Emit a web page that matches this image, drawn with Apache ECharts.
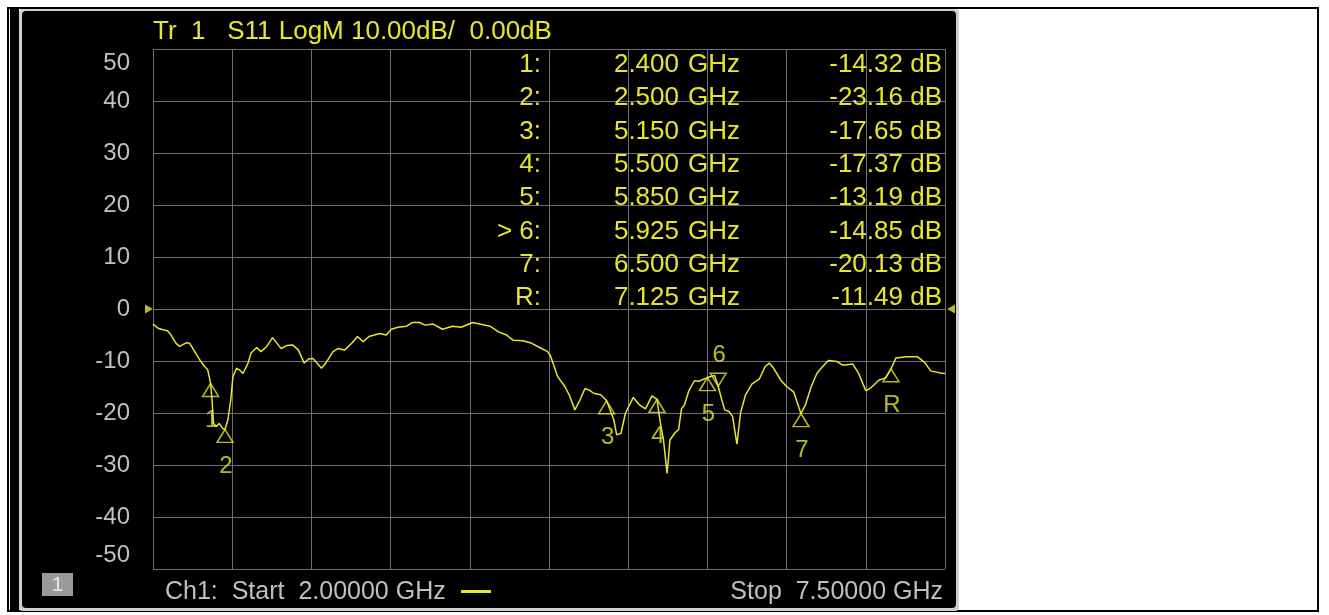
<!DOCTYPE html>
<html>
<head>
<meta charset="utf-8">
<script src="https://cdn.jsdelivr.net/npm/echarts@6/dist/echarts.min.js"></script>
<style>
  html, body { margin: 0; padding: 0; background: #fff; }
  #chart { width: 1329px; height: 615px; }
</style>
</head>
<body>
<div id="chart"></div>
<script>
// S11 trace, frequency in GHz and return loss in dB
const traceFreq = [
  2.000, 2.035, 2.070, 2.100, 2.120, 2.160, 2.185, 2.230, 2.255, 2.290,
  2.325, 2.360, 2.380, 2.400, 2.410, 2.420, 2.440, 2.460, 2.485, 2.500,
  2.520, 2.540, 2.555, 2.580, 2.600, 2.625, 2.660, 2.680, 2.720, 2.750,
  2.790, 2.830, 2.870, 2.890, 2.930, 2.970, 3.010, 3.050, 3.080, 3.110,
  3.130, 3.170, 3.200, 3.250, 3.285, 3.330, 3.380, 3.420, 3.460, 3.500,
  3.575, 3.620, 3.655, 3.700, 3.760, 3.800, 3.850, 3.890, 3.945, 4.010,
  4.080, 4.140, 4.220, 4.270, 4.340, 4.400, 4.455, 4.500, 4.570, 4.630,
  4.685, 4.740, 4.760, 4.810, 4.860, 4.890, 4.930, 4.965, 5.000, 5.030,
  5.060, 5.110, 5.150, 5.200, 5.220, 5.250, 5.280, 5.335, 5.380, 5.420,
  5.465, 5.500, 5.520, 5.545, 5.570, 5.590, 5.625, 5.650, 5.670, 5.690,
  5.720, 5.760, 5.790, 5.850, 5.900, 5.925, 5.950, 5.970, 6.000, 6.025,
  6.055, 6.080, 6.115, 6.160, 6.210, 6.250, 6.280, 6.310, 6.360, 6.400,
  6.450, 6.500, 6.530, 6.570, 6.610, 6.640, 6.690, 6.750, 6.790, 6.860,
  6.900, 6.950, 6.980, 7.040, 7.090, 7.125, 7.160, 7.230, 7.310, 7.360,
  7.400, 7.470, 7.500
];
const traceDb = [
  -2.9, -3.7, -4.0, -4.2, -4.8, -6.6, -7.2, -6.5, -6.6, -8.2,
  -9.8, -11.1, -11.7, -14.32, -17.5, -22.0, -22.6, -22.0, -23.0, -23.16,
  -21.3, -17.5, -13.0, -11.4, -11.7, -12.4, -10.4, -8.5, -7.4, -8.2,
  -7.2, -5.5, -6.9, -7.6, -7.0, -6.9, -7.9, -10.4, -9.6, -9.5,
  -10.1, -11.4, -10.4, -8.2, -7.6, -7.9, -6.6, -5.3, -6.3, -5.3,
  -4.7, -5.0, -3.9, -3.5, -3.3, -2.6, -2.6, -3.1, -2.9, -3.9,
  -3.3, -3.5, -2.6, -2.9, -3.3, -4.4, -5.0, -6.0, -6.1, -6.6,
  -7.4, -8.2, -9.0, -13.0, -14.9, -16.5, -19.4, -17.5, -15.3, -15.6,
  -16.2, -16.5, -17.65, -21.3, -24.2, -23.9, -20.1, -17.0, -18.5, -19.2,
  -16.7, -17.37, -21.3, -25.2, -31.6, -25.2, -23.8, -23.2, -19.2, -18.5,
  -15.8, -13.8, -13.9, -13.19, -12.8, -14.85, -17.5, -19.4, -19.7, -20.7,
  -26.0, -20.0, -16.5, -14.4, -13.5, -11.1, -10.4, -11.4, -13.7, -14.9,
  -16.0, -20.13, -18.5, -15.0, -12.4, -11.4, -9.9, -10.1, -10.8, -10.6,
  -12.4, -15.7, -15.3, -13.7, -13.2, -11.49, -9.4, -9.2, -9.2, -10.3,
  -11.9, -12.3, -12.4
];

// marker table
const markerNames = ['1', '2', '3', '4', '5', '6', '7', 'R'];
const markerFreq = [2.400, 2.500, 5.150, 5.500, 5.850, 5.925, 6.500, 7.125];
const markerDb = [-14.32, -23.16, -17.65, -17.37, -13.19, -14.85, -20.13, -11.49];
const activeMarker = 5;

// sweep / scale settings
const startGHz = 2.0;
const stopGHz = 7.5;
const refLevel = 0;
const yTicks = [-50, 50, 10];

const YEL = '#e6e632';
const GRAY = '#c0c0c0';
const FONT = '"Liberation Sans", Arial, sans-serif';

const myChart = echarts.init(document.getElementById('chart'));

const tracePts = traceFreq.map((f, i) => [f, traceDb[i]]);

const markerPts = markerFreq.map((f, i) => {
  const up = i !== activeMarker;
  return {
    name: markerNames[i],
    value: [f, markerDb[i]],
    symbolRotate: up ? 0 : 180,
    symbolOffset: up ? [0, 6.5] : [0, -6.5],
    label: { offset: up ? [1, 37] : [1, -31] }
  };
});

// marker readout rows
const rowY0 = 65, rowDy = 33.3;
const table = [];
markerNames.forEach((n, i) => {
  const y = rowY0 + i * rowDy;
  const font = '26px ' + FONT;
  table.push({
    type: 'text', z: 5,
    style: { text: (i === activeMarker ? '> ' : '') + n + ':', x: 541, y: y, fill: YEL, font: font,
      textAlign: 'right', align: 'right', textVerticalAlign: 'middle', verticalAlign: 'middle' }
  });
  table.push({
    type: 'text', z: 5,
    style: { text: markerFreq[i].toFixed(3), x: 679, y: y, fill: YEL, font: font,
      textAlign: 'right', align: 'right', textVerticalAlign: 'middle', verticalAlign: 'middle' }
  });
  table.push({
    type: 'text', z: 5,
    style: { text: 'GHz', x: 688, y: y, fill: YEL, font: font,
      textAlign: 'left', align: 'left', textVerticalAlign: 'middle', verticalAlign: 'middle' }
  });
  table.push({
    type: 'text', z: 5,
    style: { text: markerDb[i].toFixed(2) + ' dB', x: 942, y: y, fill: YEL, font: font,
      textAlign: 'right', align: 'right', textVerticalAlign: 'middle', verticalAlign: 'middle' }
  });
});

const option = {
  backgroundColor: '#fff',
  animation: false,
  grid: { left: 153, right: 384, top: 49, bottom: 46 },
  graphic: [
    // page frame
    { type: 'rect', z: -20, shape: { x: 8, y: 8, width: 1310, height: 603 },
      style: { fill: '#fff', stroke: '#000', lineWidth: 2 } },
    { type: 'rect', z: -19, shape: { x: 10, y: 9, width: 9, height: 601 }, style: { fill: '#000' } },
    // instrument screen
    { type: 'rect', z: -18, shape: { x: 19, y: 9, width: 940, height: 602, r: 4 }, style: { fill: '#cfcfcf' } },
    { type: 'rect', z: -17, shape: { x: 22, y: 11, width: 934, height: 597, r: 4 }, style: { fill: '#000' } },
    // trace title
    { type: 'text', z: 5, style: { text: 'Tr  1   S11 LogM 10.00dB/  0.00dB', x: 153, y: 32, fill: YEL,
      font: '26px ' + FONT, textVerticalAlign: 'middle', verticalAlign: 'middle' } },
    // channel footer
    { type: 'rect', z: 5, shape: { x: 42, y: 573, width: 31, height: 23 }, style: { fill: '#9a9a9a' } },
    { type: 'text', z: 6, style: { text: '1', x: 57.5, y: 585, fill: '#e8e8e8', font: '21px ' + FONT,
      textAlign: 'center', align: 'center', textVerticalAlign: 'middle', verticalAlign: 'middle' } },
    { type: 'text', z: 5, style: { text: 'Ch1:  Start  ' + startGHz.toFixed(5) + ' GHz', x: 165, y: 592, fill: GRAY,
      font: '25px ' + FONT, textVerticalAlign: 'middle', verticalAlign: 'middle' } },
    { type: 'rect', z: 5, shape: { x: 461, y: 590, width: 30, height: 3 }, style: { fill: YEL } },
    { type: 'text', z: 5, style: { text: 'Stop  ' + stopGHz.toFixed(5) + ' GHz', x: 943, y: 592, fill: GRAY,
      font: '25px ' + FONT, textAlign: 'right', align: 'right', textVerticalAlign: 'middle', verticalAlign: 'middle' } }
  ].concat(table),
  xAxis: [
    { type: 'value', min: startGHz, max: stopGHz, show: false },
    {
      type: 'value', min: 0, max: 10, interval: 1, position: 'bottom',
      axisLine: { show: false }, axisTick: { show: false }, axisLabel: { show: false },
      splitLine: { show: true, lineStyle: { color: '#707070', width: 1 } }
    }
  ],
  yAxis: {
    type: 'value', min: yTicks[0], max: yTicks[1], interval: yTicks[2],
    axisLine: { show: false }, axisTick: { show: false },
    splitLine: { show: true, lineStyle: { color: '#707070', width: 1 } },
    axisLabel: {
      color: GRAY, fontSize: 24, fontFamily: 'Liberation Sans', margin: 23,
      formatter: v => v === yTicks[1] ? '{top|' + v + '}' : v === yTicks[0] ? '{bot|' + v + '}' : '{n|' + v + '}',
      rich: {
        n: { color: GRAY, fontSize: 24, fontFamily: 'Liberation Sans' },
        top: { color: GRAY, fontSize: 24, fontFamily: 'Liberation Sans', padding: [28, 0, 0, 0] },
        bot: { color: GRAY, fontSize: 24, fontFamily: 'Liberation Sans', padding: [0, 0, 28, 0] }
      }
    }
  },
  series: [
    {
      name: 'S11', type: 'line', xAxisIndex: 0, data: tracePts, showSymbol: false, z: 3,
      lineStyle: { color: YEL, width: 1.5 }
    },
    {
      name: 'markers', type: 'scatter', xAxisIndex: 0, data: markerPts, clip: false, z: 4,
      symbol: 'triangle', symbolSize: [16, 13],
      itemStyle: { color: 'rgba(0,0,0,0)', borderColor: YEL, borderWidth: 1.5 }
    },
    {
      name: 'markerLabels', type: 'scatter', xAxisIndex: 0, clip: false, z: 4, symbolSize: 0,
      data: markerPts.map(p => ({ name: p.name, value: p.value, label: p.label })),
      label: { show: true, position: 'inside', formatter: '{b}', color: YEL, fontSize: 24, fontFamily: 'Liberation Sans' }
    },
    {
      name: 'refLevel', type: 'scatter', xAxisIndex: 0, clip: false, z: 4, symbol: 'triangle', symbolSize: [9, 8],
      itemStyle: { color: YEL },
      data: [
        { value: [startGHz, refLevel], symbolRotate: -90, symbolOffset: [-4, 0] },
        { value: [stopGHz, refLevel], symbolRotate: 90, symbolOffset: [6, 0] }
      ]
    }
  ]
};

option && myChart.setOption(option);
</script>
</body>
</html>
